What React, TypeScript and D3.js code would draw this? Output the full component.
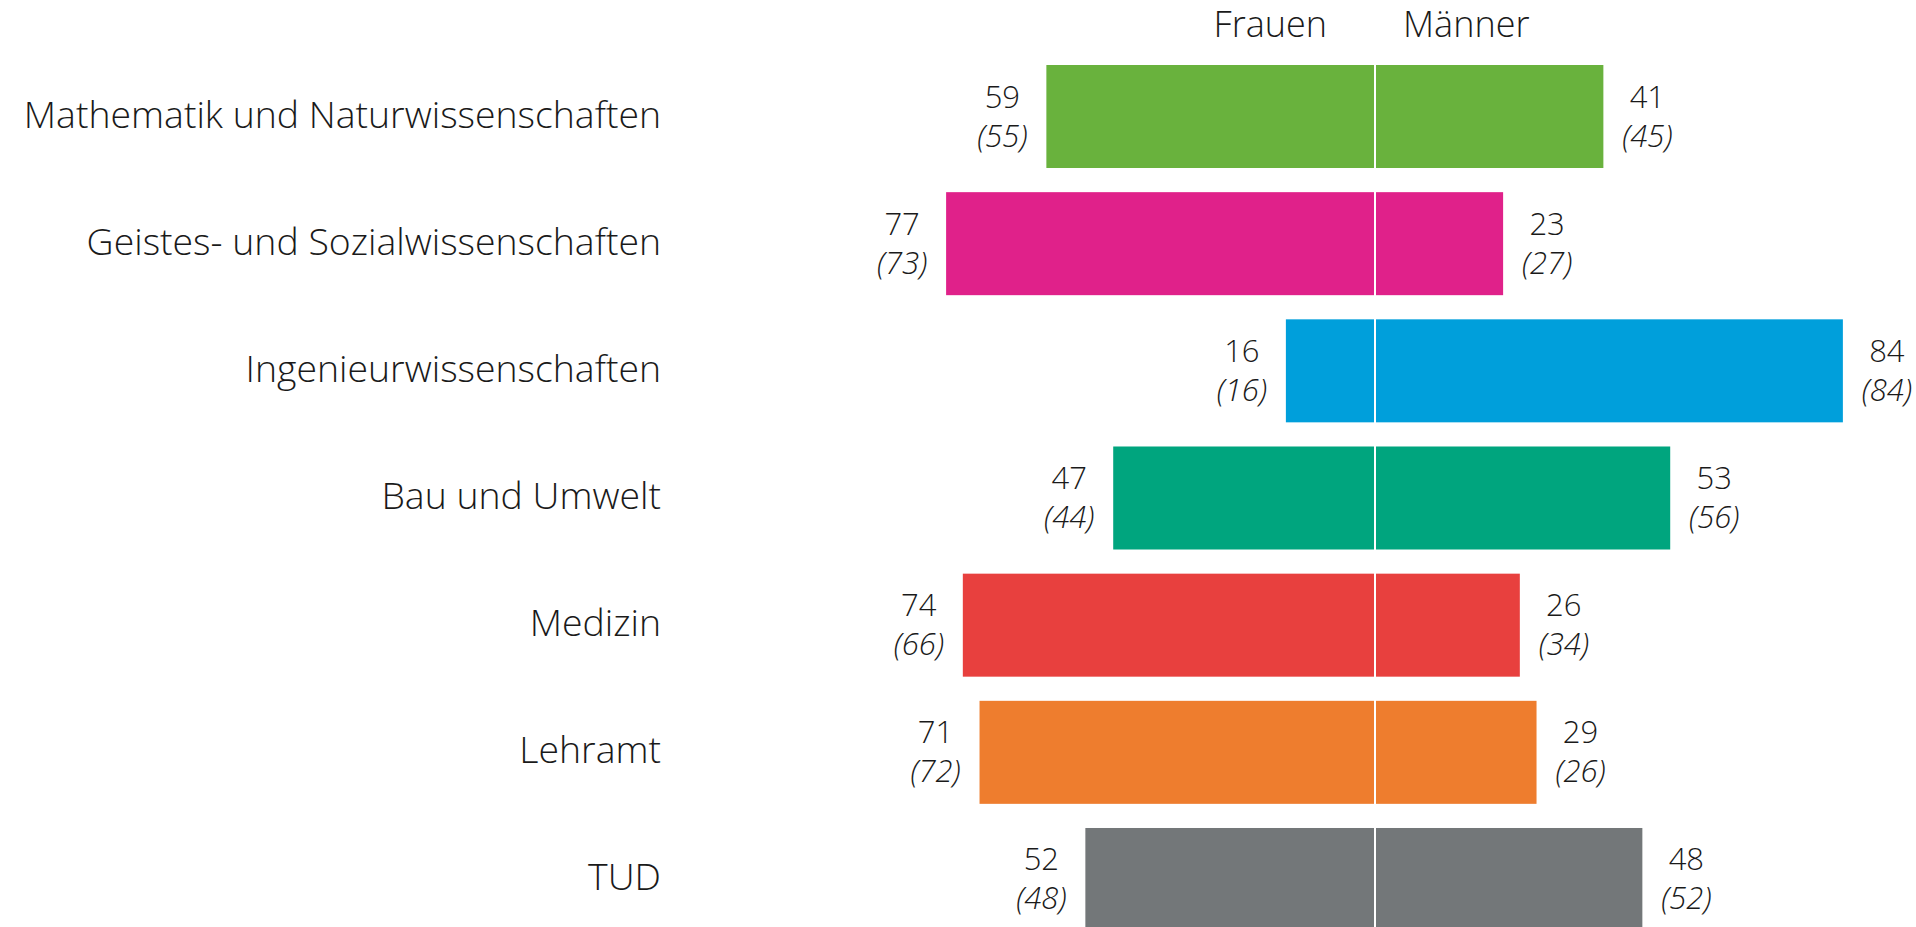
import React from "react";
import { scaleLinear, scaleBand } from "d3";

const categories = [
  "Mathematik und Naturwissenschaften",
  "Geistes- und Sozialwissenschaften",
  "Ingenieurwissenschaften",
  "Bau und Umwelt",
  "Medizin",
  "Lehramt",
  "TUD",
];
const frauen = [59, 77, 16, 47, 74, 71, 52];
const maenner = [41, 23, 84, 53, 26, 29, 48];
const frauenVorjahr = [55, 73, 16, 44, 66, 72, 48];
const maennerVorjahr = [45, 27, 84, 56, 34, 26, 52];
const colors = ["#69b23d", "#e0218a", "#009fdb", "#00a57e", "#e8403e", "#ee7d2e", "#737779"];

const W = 1916;
const H = 927;
const center = 1375;
const font = "'Open Sans', sans-serif";
const ink = "#1a1a1a";

const App = () => {
  const x = scaleLinear().domain([-100, 100]).range([center - 557, center + 557]);
  const y = scaleBand<string>()
    .domain(categories)
    .range([65, 931])
    .paddingInner(0.19)
    .paddingOuter(0);
  const bh = y.bandwidth();

  return (
    <svg
      width={W}
      height={H}
      style={{ position: "absolute", left: 0, top: 0, background: "#fff" }}
      fontFamily={font}
    >
      <text x={center - 48} y={37} textAnchor="end" fontSize={36} fontWeight={300} fill={ink}>
        Frauen
      </text>
      <text x={center + 28} y={37} textAnchor="start" fontSize={36} fontWeight={300} fill={ink}>
        Männer
      </text>
      {categories.map((c, i) => {
        const y0 = y(c) as number;
        const cy = y0 + bh / 2;
        const xl = x(-frauen[i]);
        const xr = x(maenner[i]);
        return (
          <g key={c}>
            <text x={661} y={cy + 11} textAnchor="end" fontSize={37.4} fontWeight={300} fill={ink}>
              {c}
            </text>
            <rect x={xl} y={y0} width={x(0) - xl - 1} height={bh} fill={colors[i]} />
            <rect x={x(0) + 1} y={y0} width={xr - x(0) - 1} height={bh} fill={colors[i]} />
            <text x={xl - 44} y={cy - 9} textAnchor="middle" fontSize={31} fontWeight={300} fill={ink}>
              {frauen[i]}
            </text>
            <text x={xl - 44} y={cy + 30} textAnchor="middle" fontSize={31} fontWeight={300} fontStyle="italic" fill={ink}>
              ({frauenVorjahr[i]})
            </text>
            <text x={xr + 44} y={cy - 9} textAnchor="middle" fontSize={31} fontWeight={300} fill={ink}>
              {maenner[i]}
            </text>
            <text x={xr + 44} y={cy + 30} textAnchor="middle" fontSize={31} fontWeight={300} fontStyle="italic" fill={ink}>
              ({maennerVorjahr[i]})
            </text>
          </g>
        );
      })}
    </svg>
  );
};

export default App;
